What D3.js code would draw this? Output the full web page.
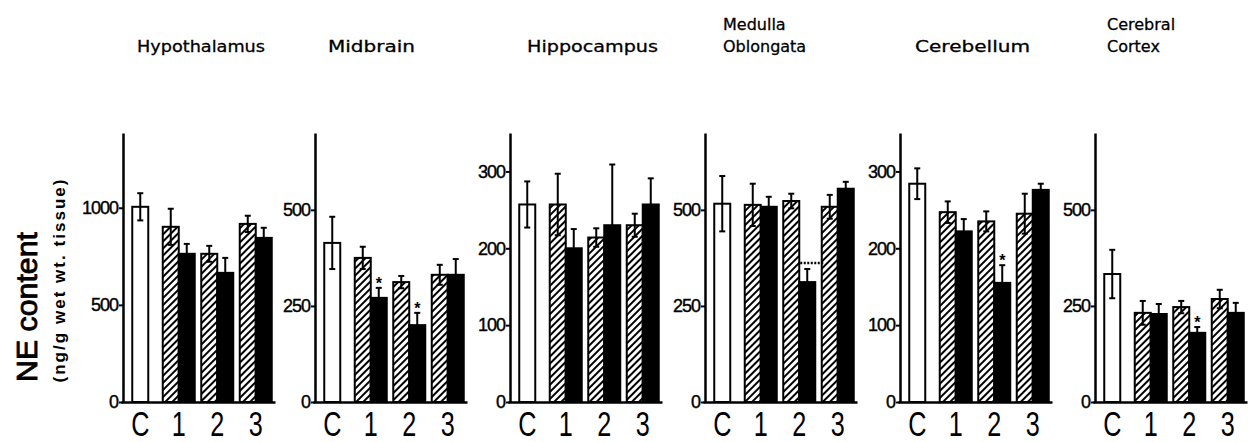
<!DOCTYPE html>
<html><head><meta charset="utf-8">
<script src="https://cdn.jsdelivr.net/npm/d3@7"></script>
<style>body{margin:0;background:#fff}svg{display:block}</style>
</head><body><svg id="c" width="1250" height="442"></svg>
<script>
// ---- data ----
const regions = [["Hypothalamus"],["Midbrain"],["Hippocampus"],["Medulla","Oblongata"],["Cerebellum"],["Cerebral","Cortex"]];
const groups = ["C","1","2","3"];
const controlMean = [1005, 414, 257, 516, 284, 333];
const controlErr  = [70, 68, 30, 72, 20, 63];
const hatchedMean = [[902,763,917],[375,312,331],[257,214,230],[513,523,508],[247,235,245],[232,247,268]];
const hatchedErr  = [[93,41,42],[29,16,26],[40,12,15],[55,19,31],[14,13,26],[31,16,24]];
const blackMean   = [[763,665,845],[271,200,331],[200,230,257],[508,312,555],[222,155,276],[229,180,232]];
const blackErr    = [[51,77,52],[26,32,41],[25,79,34],[26,34,18],[16,23,8],[26,15,26]];
const yTicks = [[0,500,1000],[0,250,500],[0,100,200,300],[0,250,500],[0,100,200,300],[0,250,500]];
const yMax = [1385, 700, 350, 700, 350, 700];
const stars = [[1,"1"],[1,"2"],[4,"2"],[5,"2"]];
const bracket = [[3,"2",362]];

// ---- layout ----
const svg = d3.select("#c");
const panelLeft = [123,315,510,705,900,1095];
const titleX = [137,328,527,723,915,1107];
const titleLen = [128,87,131,null,115,null];
const y0 = 402, yTop = 133, bw = 16;
const defs = svg.append("defs");
const pat = defs.append("pattern").attr("id","hatch").attr("patternUnits","userSpaceOnUse")
  .attr("width",5).attr("height",10).attr("patternTransform","rotate(45)");
pat.append("rect").attr("width",5).attr("height",10).attr("fill","#fff");
pat.append("line").attr("x1",1).attr("x2",1).attr("y1",0).attr("y2",10).attr("stroke","#000").attr("stroke-width",2);

function errBar(g, cx, yS, mean, err, both){
  const top = yS(mean+err), bot = both ? yS(mean-err) : yS(mean);
  g.append("line").attr("x1",cx).attr("x2",cx).attr("y1",top).attr("y2",bot).attr("stroke","#000").attr("stroke-width",2);
  g.append("line").attr("x1",cx-3).attr("x2",cx+3).attr("y1",top).attr("y2",top).attr("stroke","#000").attr("stroke-width",2);
  if (both) g.append("line").attr("x1",cx-3).attr("x2",cx+3).attr("y1",bot).attr("y2",bot).attr("stroke","#000").attr("stroke-width",2);
}

regions.forEach((reg, p) => {
  const L = panelLeft[p];
  const x = d3.scaleBand().domain(groups).range([L-2, L+152]);
  const yS = d3.scaleLinear().domain([0, yMax[p]]).range([y0, yTop]);
  const g = svg.append("g");

  // control bar
  const cx = x("C") + x.bandwidth()/2;
  g.append("rect").attr("x",cx-bw/2).attr("y",yS(controlMean[p])).attr("width",bw)
    .attr("height",yS(0)-yS(controlMean[p])).attr("fill","#fff").attr("stroke","#000").attr("stroke-width",2);
  errBar(g, cx, yS, controlMean[p], controlErr[p], true);

  groups.slice(1).forEach((grp, i) => {
    const c = x(grp) + x.bandwidth()/2;
    const hm = hatchedMean[p][i], bm = blackMean[p][i];
    g.append("rect").attr("x",c-bw).attr("y",yS(hm)).attr("width",bw).attr("height",yS(0)-yS(hm))
      .attr("fill","url(#hatch)").attr("stroke","#000").attr("stroke-width",2);
    errBar(g, c-bw/2, yS, hm, hatchedErr[p][i], true);
    g.append("rect").attr("x",c).attr("y",yS(bm)).attr("width",bw).attr("height",yS(0)-yS(bm))
      .attr("fill","#000").attr("stroke","#000").attr("stroke-width",2);
    errBar(g, c+bw/2, yS, bm, blackErr[p][i], false);
  });

  // axes
  const ya = g.append("g").attr("transform",`translate(${L},0)`)
    .call(d3.axisLeft(yS).tickValues(yTicks[p]).tickSize(4).tickSizeOuter(0).tickPadding(1).tickFormat(d3.format("d")));
  ya.select(".domain").attr("stroke-width",2.5);
  ya.selectAll(".tick line").attr("stroke-width",2);
  ya.selectAll(".tick text").attr("font-family","Liberation Sans, Arial, sans-serif").attr("font-size",18).attr("fill","#000")
    .attr("letter-spacing","-1").attr("stroke","#000").attr("stroke-width",0.4);
  const xa = g.append("g").attr("transform",`translate(0,${y0})`)
    .call(d3.axisBottom(x).tickSize(0).tickSizeOuter(0).tickPadding(0));
  xa.select(".domain").attr("stroke-width",2.5);
  xa.selectAll(".tick text").text(null);
  groups.forEach(grp => {
    const c = x(grp) + x.bandwidth()/2;
    g.append("text").attr("transform",`translate(${c},436) scale(0.72,1)`).attr("text-anchor","middle")
      .attr("font-family","Liberation Sans, Arial, sans-serif").attr("font-size",35).text(grp);
  });

  // titles
  reg.forEach((line, k) => {
    const t = g.append("text").attr("x",titleX[p]).attr("y",52 - (reg.length-1-k)*22)
      .attr("font-family","DejaVu Sans, sans-serif").attr("font-size",16)
      .attr("stroke","#000").attr("stroke-width",0.3).text(line);
    if (reg.length===1 && titleLen[p]) t.attr("textLength",titleLen[p]).attr("lengthAdjust","spacingAndGlyphs");
  });

  stars.filter(s => s[0]===p).forEach(s => {
    const i = groups.indexOf(s[1]) - 1;
    const c = x(s[1]) + x.bandwidth()/2 + bw/2;
    g.append("text").attr("x",c).attr("y",yS(blackMean[p][i]+blackErr[p][i]) + 1).attr("text-anchor","middle")
      .attr("fill","#000").attr("font-family","Liberation Sans, Arial, sans-serif").attr("font-size",16).attr("font-weight","bold").text("*");
  });
  bracket.filter(b => b[0]===p).forEach(b => {
    const c = x(b[1]) + x.bandwidth()/2;
    const yy = yS(b[2]);
    g.append("line").attr("x1",c+1).attr("x2",c+25).attr("y1",yy).attr("y2",yy).attr("stroke","#000")
      .attr("stroke-width",2.5).attr("stroke-dasharray","2,1.5");
  });
});

// y-axis title
svg.append("text").attr("transform","translate(37,307) rotate(-90)").attr("text-anchor","middle")
  .attr("font-family","Liberation Sans, Arial, sans-serif").attr("font-size",29)
  .attr("stroke","#000").attr("stroke-width",0.8).attr("textLength",150).attr("lengthAdjust","spacingAndGlyphs").text("NE content");
svg.append("text").attr("transform","translate(65,281) rotate(-90)").attr("text-anchor","middle")
  .attr("font-family","Liberation Sans, Arial, sans-serif").attr("font-size",17).attr("font-weight","bold")
  .attr("textLength",203).attr("lengthAdjust","spacing").text("(ng/g wet wt. tissue)");
</script></body></html>
